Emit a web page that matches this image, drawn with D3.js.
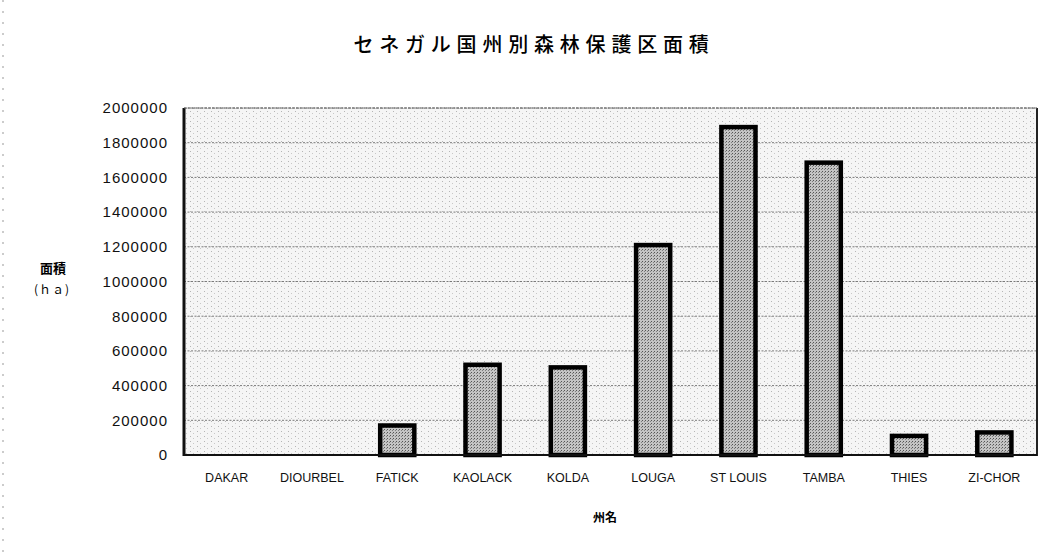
<!DOCTYPE html>
<html>
<head>
<meta charset="utf-8">
<script src="https://cdn.jsdelivr.net/npm/d3@7/dist/d3.min.js"></script>
<style>
  html, body { margin: 0; padding: 0; background: #fff; }
  svg { display: block; }
</style>
</head>
<body>
<svg id="chart" width="1048" height="556"></svg>
<script>
// Forest reserve area by region (ha)
const regions = ["DAKAR", "DIOURBEL", "FATICK", "KAOLACK", "KOLDA", "LOUGA", "ST LOUIS", "TAMBA", "THIES", "ZI-CHOR"];
const areas = [0, 0, 170000, 520000, 505000, 1210000, 1890000, 1685000, 110000, 130000];
const yTicks = [0, 200000, 400000, 600000, 800000, 1000000, 1200000, 1400000, 1600000, 1800000, 2000000];

const titleText = "セネガル国州別森林保護区面積";
const yTitle = ["面積", "(ｈａ)"];
const xTitle = "州名";

const svg = d3.select("#chart");
const plot = { left: 184, right: 1037, top: 108, bottom: 455 };

const defs = svg.append("defs");
// light speckle for the plot background
const bgPat = defs.append("pattern").attr("id", "speckle")
  .attr("patternUnits", "userSpaceOnUse").attr("width", 7).attr("height", 5);
bgPat.append("rect").attr("width", 7).attr("height", 5).attr("fill", "#f5f5f5");
bgPat.append("rect").attr("x", 1).attr("y", 1).attr("width", 1).attr("height", 1).attr("fill", "#b5b5b5");
bgPat.append("rect").attr("x", 4).attr("y", 3).attr("width", 1).attr("height", 1).attr("fill", "#c8c8c8");
// denser stipple for the bars
const barPat = defs.append("pattern").attr("id", "stipple")
  .attr("patternUnits", "userSpaceOnUse").attr("width", 3).attr("height", 3);
barPat.append("rect").attr("width", 3).attr("height", 3).attr("fill", "#c4c4c4");
barPat.append("rect").attr("x", 0).attr("y", 0).attr("width", 1).attr("height", 1).attr("fill", "#555");
barPat.append("rect").attr("x", 2).attr("y", 1).attr("width", 1).attr("height", 1).attr("fill", "#808080");

// faint dashed edge line at the far left
svg.append("line").attr("x1", 3).attr("x2", 3).attr("y1", 0).attr("y2", 556)
  .attr("stroke", "#999").attr("stroke-width", 1).attr("stroke-dasharray", "2,9");

const x = d3.scaleBand().domain(regions).range([plot.left, plot.right]).paddingInner(0.6).paddingOuter(0.3);
const y = d3.scaleLinear().domain([0, 2000000]).range([plot.bottom, plot.top]);

// plot background
svg.append("rect")
  .attr("x", plot.left).attr("y", plot.top)
  .attr("width", plot.right - plot.left).attr("height", plot.bottom - plot.top)
  .attr("fill", "url(#speckle)");

// gridlines
svg.append("g").selectAll("line").data(yTicks.filter(d => d > 0)).join("line")
  .attr("x1", plot.left).attr("x2", plot.right)
  .attr("y1", d => y(d)).attr("y2", d => y(d))
  .attr("stroke", "#7a7a7a").attr("stroke-width", 1).attr("stroke-dasharray", "2,1.5");

// bars
svg.append("g").selectAll("rect").data(regions.map((r, i) => ({ r, v: areas[i] })).filter(d => d.v > 0)).join("rect")
  .attr("x", d => x(d.r)).attr("width", x.bandwidth())
  .attr("y", d => y(d.v)).attr("height", d => y(0) - y(d.v))
  .attr("fill", "url(#stipple)")
  .attr("stroke", "#000").attr("stroke-width", 4.5);

// plot frame
svg.append("line").attr("x1", plot.left).attr("x2", plot.left).attr("y1", plot.top).attr("y2", plot.bottom + 1)
  .attr("stroke", "#111").attr("stroke-width", 3);
svg.append("line").attr("x1", plot.right).attr("x2", plot.right).attr("y1", plot.top).attr("y2", plot.bottom + 1)
  .attr("stroke", "#222").attr("stroke-width", 2);
svg.append("line").attr("x1", plot.left).attr("x2", plot.right).attr("y1", plot.top).attr("y2", plot.top)
  .attr("stroke", "#666").attr("stroke-width", 1).attr("stroke-dasharray", "3,1");
svg.append("line").attr("x1", plot.left).attr("x2", plot.right).attr("y1", plot.bottom).attr("y2", plot.bottom)
  .attr("stroke", "#111").attr("stroke-width", 2);

// y axis labels
const yAxis = d3.axisLeft(y).tickValues(yTicks).tickSize(0).tickPadding(16).tickFormat(d3.format("d"));
const ya = svg.append("g").attr("transform", `translate(${plot.left},0)`).call(yAxis);
ya.select(".domain").remove();
ya.selectAll("text").attr("font-family", "'Liberation Sans', Arial, sans-serif")
  .attr("font-size", 15).attr("letter-spacing", 1).attr("fill", "#111");

// x axis labels
const xAxis = d3.axisBottom(x).tickSize(0).tickPadding(18);
const xa = svg.append("g").attr("transform", `translate(0,${plot.bottom})`).call(xAxis);
xa.select(".domain").remove();
xa.selectAll("text").attr("font-family", "'Liberation Sans', Arial, sans-serif")
  .attr("font-size", 12.5).attr("fill", "#111");

// title
svg.append("text").attr("x", 534).attr("y", 52).attr("text-anchor", "middle")
  .attr("font-family", "'Noto Sans CJK JP', sans-serif").attr("font-size", 20).attr("font-weight", 500)
  .attr("letter-spacing", 5.8).attr("fill", "#000").text(titleText);

// axis titles
svg.append("text").attr("x", 53).attr("y", 273).attr("text-anchor", "middle")
  .attr("font-family", "'Noto Sans CJK JP', sans-serif").attr("font-size", 13).attr("font-weight", "bold")
  .attr("fill", "#000").text(yTitle[0]);
svg.append("text").attr("x", 52).attr("y", 294).attr("text-anchor", "middle")
  .attr("font-family", "'Noto Sans CJK JP', sans-serif").attr("font-size", 12).attr("letter-spacing", 1)
  .attr("fill", "#000").text(yTitle[1]);
svg.append("text").attr("x", 605).attr("y", 522).attr("text-anchor", "middle")
  .attr("font-family", "'Noto Sans CJK JP', sans-serif").attr("font-size", 12).attr("font-weight", "bold")
  .attr("fill", "#000").text(xTitle);
</script>
</body>
</html>
